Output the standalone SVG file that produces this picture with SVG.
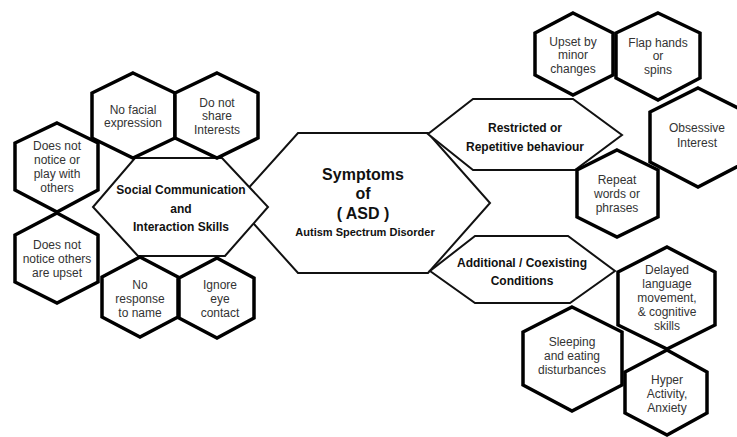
<svg xmlns="http://www.w3.org/2000/svg" width="737" height="437" viewBox="0 0 737 437">
<style>
.big{fill:#fff;stroke:#111;stroke-width:2;stroke-linejoin:miter}
.sm{fill:#fff;stroke:#000;stroke-width:3.5;stroke-linejoin:miter}
.tb{font-family:"Liberation Sans",Arial,sans-serif;font-weight:bold;font-size:12px;fill:#111;text-anchor:middle}
.ts{font-family:"Liberation Sans",Arial,sans-serif;font-size:12px;fill:#333;text-anchor:middle}
</style>
<rect width="737" height="437" fill="#fff"/>
<g id="center">
<polygon class="big" points="298,133 428,133 490,203 428,273 298,273 235,203"/>
<text class="tb" x="363" y="180" style="font-size:16px">Symptoms</text>
<text class="tb" x="363" y="199" style="font-size:16px">of</text>
<text class="tb" x="363" y="219" style="font-size:16px">( ASD )</text>
<text class="tb" x="365" y="236" style="font-size:11px">Autism Spectrum Disorder</text>
</g>
<g id="social">
<polygon class="big" points="135,158 222,158 268,207 225,256 138,256 93,207"/>
<text class="tb" x="181" y="194">Social Communication</text>
<text class="tb" x="181" y="213">and</text>
<text class="tb" x="181" y="231">Interaction Skills</text>
</g>
<g id="restricted">
<polygon class="big" points="473,99 573,99 622,135 575,170 473,170 428,134"/>
<text class="tb" x="525" y="132">Restricted or</text>
<text class="tb" x="525" y="151">Repetitive behaviour</text>
</g>
<g id="additional">
<polygon class="big" points="475,236 568,236 615,271 570,303 475,303 430,271"/>
<text class="tb" x="522" y="267">Additional / Coexisting</text>
<text class="tb" x="522" y="285">Conditions</text>
</g>
<g id="no-facial">
<polygon class="sm" points="133,73 175,93 175,138 133,158 92,138 92,93"/>
<text class="ts" x="133" y="114">No facial</text>
<text class="ts" x="133" y="127">expression</text>
</g>
<g id="share-interests">
<polygon class="sm" points="217,73 258,93 258,138 217,158 175,138 175,93"/>
<text class="ts" x="217" y="107">Do not</text>
<text class="ts" x="217" y="120">share</text>
<text class="ts" x="217" y="134">Interests</text>
</g>
<g id="play-with-others">
<polygon class="sm" points="57,123 98,143 98,190 57,212 15,190 15,143"/>
<text class="ts" x="57" y="150">Does not</text>
<text class="ts" x="57" y="164">notice or</text>
<text class="ts" x="57" y="178">play with</text>
<text class="ts" x="57" y="192">others</text>
</g>
<g id="others-upset">
<polygon class="sm" points="57,213 98,235 98,282 57,303 15,282 15,235"/>
<text class="ts" x="57" y="249">Does not</text>
<text class="ts" x="57" y="263">notice others</text>
<text class="ts" x="57" y="277">are upset</text>
</g>
<g id="no-response">
<polygon class="sm" points="140,257 178,277 178,317 140,337 102,317 102,277"/>
<text class="ts" x="140" y="289">No</text>
<text class="ts" x="140" y="303">response</text>
<text class="ts" x="140" y="317">to name</text>
</g>
<g id="eye-contact">
<polygon class="sm" points="217,258 254,278 254,318 217,338 179,318 179,278"/>
<text class="ts" x="220" y="289">Ignore</text>
<text class="ts" x="220" y="303">eye</text>
<text class="ts" x="220" y="317">contact</text>
</g>
<g id="upset-changes">
<polygon class="sm" points="573,13 613,33 613,75 573,95 535,75 535,33"/>
<text class="ts" x="573" y="46">Upset by</text>
<text class="ts" x="573" y="59">minor</text>
<text class="ts" x="573" y="73">changes</text>
</g>
<g id="flap-hands">
<polygon class="sm" points="658,13 700,33 700,78 658,100 616,78 616,33"/>
<text class="ts" x="658" y="47">Flap hands</text>
<text class="ts" x="658" y="60">or</text>
<text class="ts" x="658" y="74">spins</text>
</g>
<g id="obsessive">
<polygon class="sm" points="698,88 746,112 746,162 698,187 650,162 650,112"/>
<text class="ts" x="697" y="132">Obsessive</text>
<text class="ts" x="697" y="147">Interest</text>
</g>
<g id="repeat-words">
<polygon class="sm" points="617,150 658,170 658,217 617,237 577,217 577,170"/>
<text class="ts" x="617" y="184">Repeat</text>
<text class="ts" x="617" y="198">words or</text>
<text class="ts" x="617" y="212">phrases</text>
</g>
<g id="delayed">
<polygon class="sm" points="667,247 715,272 715,325 667,349 618,325 618,272"/>
<text class="ts" x="667" y="274">Delayed</text>
<text class="ts" x="667" y="288">language</text>
<text class="ts" x="667" y="302">movement,</text>
<text class="ts" x="667" y="316">&amp; cognitive</text>
<text class="ts" x="667" y="330">skills</text>
</g>
<g id="sleeping">
<polygon class="sm" points="572,307 622,332 622,385 572,411 523,385 523,332"/>
<text class="ts" x="572" y="346">Sleeping</text>
<text class="ts" x="572" y="360">and eating</text>
<text class="ts" x="572" y="374">disturbances</text>
</g>
<g id="hyper">
<polygon class="sm" points="667,350 707,372 707,413 667,435 625,413 625,372"/>
<text class="ts" x="667" y="384">Hyper</text>
<text class="ts" x="667" y="398">Activity,</text>
<text class="ts" x="667" y="412">Anxiety</text>
</g>
</svg>
